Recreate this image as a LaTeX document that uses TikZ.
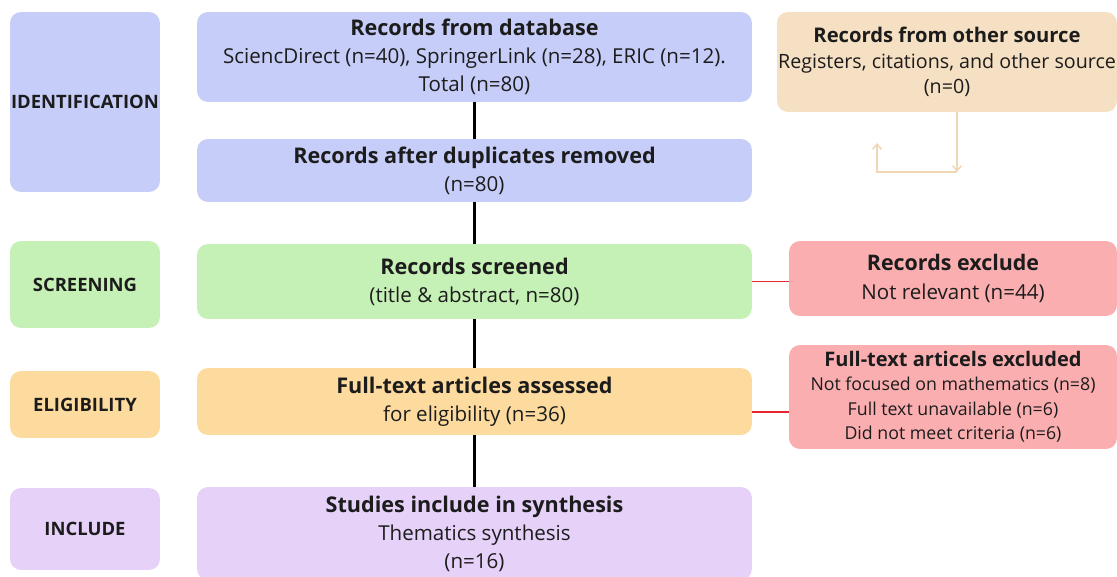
\documentclass[tikz,border=0pt]{standalone}
\usepackage{fontspec}
\setmainfont{Open Sans}
\usepackage{xcolor}
\usepackage{tikz}
\usetikzlibrary{shapes,arrows.meta}
\definecolor{idblue}{HTML}{C6CDF9}
\definecolor{scgreen}{HTML}{C6F1B6}
\definecolor{elorange}{HTML}{FDDB9F}
\definecolor{inpurple}{HTML}{E6D1F9}
\definecolor{srctan}{HTML}{F5E0C3}
\definecolor{expink}{HTML}{FAAEB0}
\definecolor{exred}{HTML}{E5262E}
\definecolor{tanline}{HTML}{F0D6B4}
\definecolor{inktext}{HTML}{1C1C1C}
\tikzstyle{stage} = [rectangle, rounded corners=0.22cm, inner sep=0pt, text=inktext, text centered, minimum width=3cm, font=\fontsize{10.5}{12}\selectfont\bfseries]
\tikzstyle{block} = [rectangle, rounded corners=0.22cm, text=inktext, align=center, minimum width=11.1cm, font=\fontsize{11.7}{15.9}\selectfont]
\tikzstyle{side} = [rectangle, rounded corners=0.22cm, inner xsep=0pt, text=inktext, align=center, font=\fontsize{11.7}{16.5}\selectfont]
\tikzstyle{line} = [draw, line width=1.2pt]
\tikzstyle{exline} = [draw, exred, line width=0.9pt]
\tikzstyle{srcline} = [draw, tanline, line width=0.8pt, -{Straight Barb[length=3pt,width=5pt]}]

\begin{document}
\begin{tikzpicture}[x=0.02cm, y=-0.02cm]
\useasboundingbox (0,0) rectangle (1117,577);
% stage labels
\node [stage, fill=idblue, minimum height=3.6cm] (ident) at (85,102) {IDENTIFICATION};
\node [stage, fill=scgreen, minimum height=1.74cm] (screen) at (85,284.5) {SCREENING};
\node [stage, fill=elorange, minimum height=1.34cm] (elig) at (85,404.5) {ELIGIBILITY};
\node [stage, fill=inpurple, minimum height=1.64cm] (incl) at (85,529) {INCLUDE};
% main column
\node [block, fill=idblue, minimum height=1.8cm] (rec-db) at (474.5,57) {{\fontsize{12.3}{15.9}\selectfont\bfseries Records from database}\\SciencDirect (n=40), SpringerLink (n=28), ERIC (n=12).\\Total (n=80)};
\node [block, fill=idblue, minimum height=1.26cm] (rec-dup) at (474.5,170.5) {{\fontsize{12.3}{15.9}\selectfont\bfseries Records after duplicates removed}\\(n=80)};
\node [block, fill=scgreen, minimum height=1.5cm] (rec-screen) at (474.5,281.5) {{\fontsize{12.3}{15.9}\selectfont\bfseries Records screened}\\(title \& abstract, n=80)};
\node [block, fill=elorange, minimum height=1.34cm] (ft-assess) at (474.5,401.5) {{\fontsize{12.3}{15.9}\selectfont\bfseries Full-text articles assessed}\\for eligibility (n=36)};
\node [block, fill=inpurple, minimum height=1.86cm] (studies) at (474.5,533.5) {{\fontsize{12.3}{15.9}\selectfont\bfseries Studies include in synthesis}\\Thematics synthesis\\(n=16)};
\path [line] (rec-db) -- (rec-dup);
\path [line] (rec-dup) -- (rec-screen);
\path [line] (rec-screen) -- (ft-assess);
\path [line] (ft-assess) -- (studies);
% right column
\node [side, fill=srctan, minimum width=6.8cm, minimum height=2cm, font=\fontsize{11.2}{14.5}\selectfont] (other-src) at (947,62) {{\fontsize{11.5}{14.5}\selectfont\bfseries Records from other source}\\Registers, citations, and other source\\(n=0)};
\node [side, fill=expink, minimum width=6.56cm, minimum height=1.5cm] (rec-excl) at (953,278.5) {{\fontsize{12.2}{16.5}\selectfont\bfseries Records exclude}\\Not relevant (n=44)};
\node [side, fill=expink, minimum width=6.56cm, minimum height=2.08cm, font=\fontsize{10.1}{13.9}\selectfont] (ft-excl) at (953,397) {{\fontsize{11.4}{13.9}\selectfont\bfseries Full-text articels excluded}\\Not focused on mathematics (n=8)\\Full text unavailable (n=6)\\Did not meet criteria (n=6)};
\path [exline] (rec-screen.east) -- (rec-screen.east -| rec-excl.west);
\path [exline] ([yshift=-0.21cm]ft-assess.east) -- ([yshift=-0.21cm]ft-assess.east -| ft-excl.west);
\coordinate (src-bend) at (957,172);
\coordinate (src-stub) at (877,143);
\path [srcline] (other-src.south -| src-bend) -- (src-bend);
\path [srcline] (src-bend) -| (src-stub);
\end{tikzpicture}
\end{document}
